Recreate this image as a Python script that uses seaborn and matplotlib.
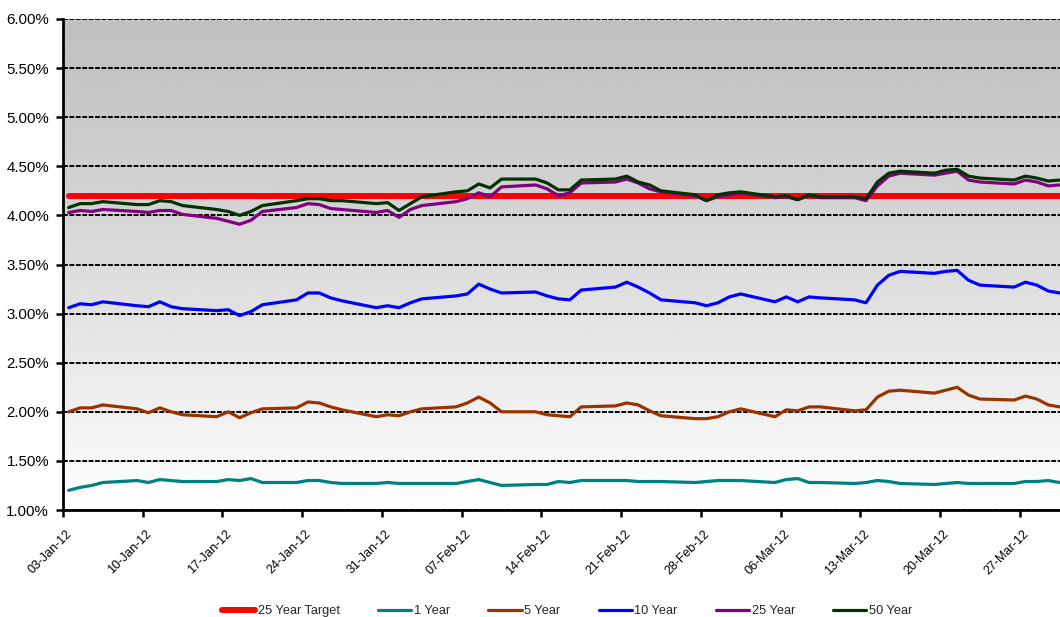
import numpy as np
import pandas as pd
import matplotlib
matplotlib.use("Agg")
import matplotlib.pyplot as plt
import matplotlib.dates as mdates
import matplotlib.transforms as mtransforms
from matplotlib.ticker import FuncFormatter, MultipleLocator
import seaborn as sns

# Trading days, Q1 2012
dates = pd.bdate_range("2012-01-03", "2012-03-30")

target_25y = 4.20

yield_1y = [
    1.20, 1.23, 1.25, 1.28,
    1.30, 1.28, 1.31, 1.30, 1.29,
    1.29, 1.31, 1.30, 1.32, 1.28,
    1.28, 1.30, 1.30, 1.28, 1.27,
    1.27, 1.28, 1.27, 1.27, 1.27,
    1.27, 1.29, 1.31, 1.28, 1.25,
    1.26, 1.26, 1.29, 1.28, 1.30,
    1.30, 1.30, 1.29, 1.29, 1.29,
    1.28, 1.29, 1.30, 1.30, 1.30,
    1.28, 1.31, 1.32, 1.28, 1.28,
    1.27, 1.28, 1.30, 1.29, 1.27,
    1.26, 1.27, 1.28, 1.27, 1.27,
    1.27, 1.29, 1.29, 1.30, 1.28,
]

yield_5y = [
    2.00, 2.04, 2.04, 2.07,
    2.03, 1.99, 2.04, 2.00, 1.97,
    1.95, 2.00, 1.94, 1.99, 2.03,
    2.04, 2.10, 2.09, 2.05, 2.02,
    1.95, 1.97, 1.96, 2.00, 2.03,
    2.05, 2.09, 2.15, 2.09, 2.00,
    2.00, 1.97, 1.96, 1.95, 2.05,
    2.06, 2.09, 2.07, 2.01, 1.96,
    1.93, 1.93, 1.95, 2.00, 2.03,
    1.95, 2.02, 2.01, 2.05, 2.05,
    2.01, 2.02, 2.15, 2.21, 2.22,
    2.19, 2.22, 2.25, 2.17, 2.13,
    2.12, 2.16, 2.13, 2.07, 2.05,
]

yield_10y = [
    3.06, 3.10, 3.09, 3.12,
    3.08, 3.07, 3.12, 3.07, 3.05,
    3.03, 3.04, 2.98, 3.02, 3.09,
    3.14, 3.21, 3.21, 3.16, 3.13,
    3.06, 3.08, 3.06, 3.11, 3.15,
    3.18, 3.20, 3.30, 3.25, 3.21,
    3.22, 3.18, 3.15, 3.14, 3.24,
    3.27, 3.32, 3.27, 3.21, 3.14,
    3.11, 3.08, 3.11, 3.17, 3.20,
    3.12, 3.17, 3.12, 3.17, 3.16,
    3.14, 3.11, 3.29, 3.39, 3.43,
    3.41, 3.43, 3.44, 3.34, 3.29,
    3.27, 3.32, 3.29, 3.23, 3.21,
]

yield_25y = [
    4.03, 4.05, 4.04, 4.06,
    4.04, 4.03, 4.05, 4.05, 4.01,
    3.97, 3.94, 3.91, 3.95, 4.04,
    4.08, 4.12, 4.11, 4.07, 4.06,
    4.03, 4.05, 3.98, 4.06, 4.10,
    4.14, 4.17, 4.23, 4.19, 4.29,
    4.31, 4.27, 4.20, 4.23, 4.33,
    4.34, 4.37, 4.33, 4.27, 4.24,
    4.20, 4.15, 4.19, 4.21, 4.23,
    4.18, 4.19, 4.16, 4.20, 4.18,
    4.18, 4.15, 4.30, 4.40, 4.43,
    4.41, 4.43, 4.45, 4.36, 4.34,
    4.32, 4.36, 4.34, 4.30, 4.31,
]

yield_50y = [
    4.08, 4.12, 4.12, 4.14,
    4.11, 4.11, 4.15, 4.14, 4.10,
    4.06, 4.04, 4.00, 4.04, 4.10,
    4.15, 4.17, 4.17, 4.15, 4.15,
    4.12, 4.13, 4.05, 4.12, 4.19,
    4.24, 4.25, 4.32, 4.28, 4.37,
    4.37, 4.33, 4.26, 4.26, 4.36,
    4.37, 4.40, 4.34, 4.31, 4.25,
    4.21, 4.15, 4.21, 4.23, 4.24,
    4.19, 4.20, 4.16, 4.21, 4.19,
    4.19, 4.17, 4.34, 4.43, 4.45,
    4.43, 4.46, 4.47, 4.40, 4.38,
    4.36, 4.40, 4.38, 4.35, 4.36,
]

series_names = ["25 Year Target", "1 Year", "5 Year", "10 Year", "25 Year", "50 Year"]
series_colors = ["#ff0000", "#008080", "#993300", "#0000ff", "#800080", "#003300"]
series_widths = [4.3, 2.3, 2.3, 2.3, 2.3, 2.3]
series_values = [
    [target_25y] * len(dates),
    yield_1y, yield_5y, yield_10y, yield_25y, yield_50y,
]

# Each daily close sits in the middle of its day on the date axis
x_pos = dates + pd.Timedelta(hours=12)

sns.set_theme(style="white")
plt.rcParams["font.family"] = ["Liberation Sans", "DejaVu Sans"]

W, H = 1060, 617
fig = plt.figure(figsize=(W / 100, H / 100), dpi=100)
left, right, top, bottom = 63, 1060, 19, 510
ax = fig.add_axes([left / W, 1 - bottom / H, (right - left) / W, (bottom - top) / H])

# Grey-to-white vertical gradient behind the plot
grad = np.linspace(0, 1, 256) ** 1.2
shade = 192 / 255 + (1 - 192 / 255) * grad
img = np.repeat(shade[:, None], 2, axis=1)
ax.imshow(img, extent=[0, 1, 0, 1], transform=ax.transAxes, cmap="gray",
          vmin=0, vmax=1, aspect="auto", origin="upper", zorder=0,
          interpolation="bilinear")

for name, color, lw, vals in zip(series_names, series_colors, series_widths, series_values):
    sns.lineplot(x=x_pos, y=vals, ax=ax, color=color, linewidth=lw, label=name,
                 zorder=3, legend=False)

ax.set_xlim(pd.Timestamp("2012-01-03"), pd.Timestamp("2012-03-30 12:45"))
ax.set_ylim(1.0, 6.0)
ax.set_xlabel("")
ax.set_ylabel("")

ax.yaxis.set_major_locator(MultipleLocator(0.5))
ax.yaxis.set_major_formatter(FuncFormatter(lambda v, _: f"{v:.2f}%"))
week_ticks = pd.date_range("2012-01-03", periods=13, freq="7D")
ax.set_xticks(week_ticks)
ax.xaxis.set_major_formatter(mdates.DateFormatter("%d-%b-%y"))

ax.yaxis.grid(True, color="black", linestyle=(0, (2.5, 0.8)), linewidth=1.4, zorder=1)
ax.set_axisbelow(True)
gl = ax.get_ygridlines()
if gl:
    gl[-1].set_color("#808080")
    gl[-1].set_linewidth(2.0)

for side in ["top", "right"]:
    ax.spines[side].set_visible(False)
for side in ["left", "bottom"]:
    ax.spines[side].set_color("black")
    ax.spines[side].set_linewidth(2.0)
    ax.spines[side].set_zorder(4)

ax.tick_params(axis="y", which="major", direction="out", length=5, width=1.8,
               color="black", labelsize=10.8, pad=5, labelcolor="black", left=True)
ax.tick_params(axis="x", which="major", direction="out", length=5, width=1.8,
               color="black", labelsize=9, pad=8, labelcolor="black", bottom=True)

offset = mtransforms.ScaledTranslation(0.03, 0, fig.dpi_scale_trans)
for lab in ax.get_xticklabels():
    lab.set_rotation(45)
    lab.set_ha("right")
    lab.set_va("top")
    lab.set_rotation_mode("anchor")
    lab.set_transform(lab.get_transform() + offset)

handles, labels = ax.get_legend_handles_labels()
fig.legend(handles, labels, loc="center", bbox_to_anchor=(0.535, 0.009), ncol=6,
           frameon=False, fontsize=9.2, handlelength=2.6, handletextpad=0.2,
           columnspacing=3.0)

fig.savefig("out.png", dpi=100)
